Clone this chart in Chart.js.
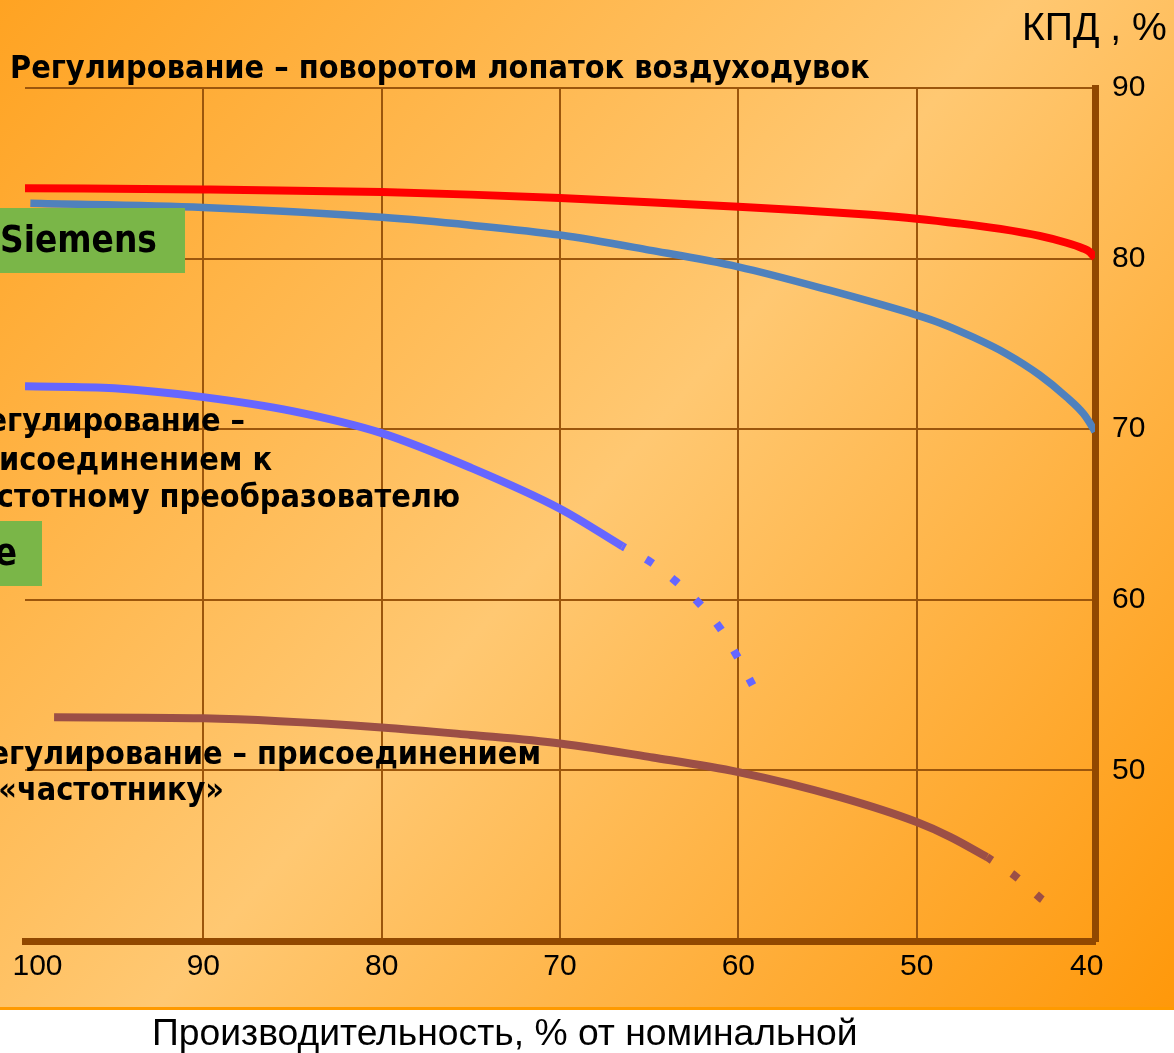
<!DOCTYPE html>
<html><head><meta charset="utf-8">
<script src="https://cdn.jsdelivr.net/npm/chart.js@4.4.1/dist/chart.umd.min.js"></script>
<style>html,body{margin:0;padding:0;background:#fff;overflow:hidden}canvas{display:block}</style>
</head><body>
<canvas id="c" width="1174" height="1053"></canvas>
<script>
// ---- data ----
const xTickValues = [100, 90, 80, 70, 60, 50, 40];
const yTickValues = [90, 80, 70, 60, 50];

const bladesX = [100, 90, 80, 75, 70, 65, 60, 56.5, 52.6, 50, 47.6, 45.3, 43.1, 41.6, 40.7, 40.3, 40];
const bladesY = [84.13, 84.05, 83.9, 83.75, 83.55, 83.31, 83.04, 82.84, 82.57, 82.34, 82.06, 81.74, 81.33, 80.93, 80.61, 80.4, 80.05];

const siemensX = [99.7, 90, 80, 75, 70, 65, 60, 54.9, 50, 48.7, 46.8, 45.0, 43.1, 41.6, 40.65, 40.1, 40];
const siemensY = [83.24, 83.0, 82.42, 81.96, 81.38, 80.5, 79.52, 78.15, 76.69, 76.23, 75.38, 74.44, 73.17, 71.89, 70.91, 70.04, 69.85];

const vfdX = [100, 95, 90, 85, 80, 75, 70, 66.5];
const vfdY = [72.52, 72.4, 71.88, 71.06, 69.77, 67.74, 65.34, 63.14];
const vfdDashX = [66.5, 64.9, 63.5, 62.2, 61.0, 60.1, 59.2];
const vfdDashY = [63.14, 62.2, 61.08, 59.8, 58.3, 56.75, 55.0];

const chastX = [98.37, 90, 80, 75, 70, 64.8, 60, 54.3, 50, 48.1, 46.06];
const chastY = [53.11, 53.05, 52.52, 52.08, 51.58, 50.76, 49.9, 48.43, 46.97, 46.09, 44.92];
const chastDashX = [46.06, 44.37, 43.03, 42.8];
const chastDashY = [44.92, 43.72, 42.49, 42.32];

const titleText = 'Регулирование – поворотом лопаток воздуходувок';
const yAxisTitle = 'КПД , %';
const xAxisTitle = 'Производительность, % от номинальной';
const noteVfd = ['Регулирование –', 'присоединением к', 'частотному преобразователю'];
const noteChast = ['Регулирование – присоединением', 'к «частотнику»'];
const brand1 = 'Siemens';
const brand2 = 'e';

const pts = (xs, ys) => xs.map((x, i) => ({x, y: ys[i]}));

const BOLD = '"DejaVu Sans Condensed", "DejaVu Sans", sans-serif';
const NORM = '"Liberation Sans", Arial, sans-serif';

function fitSize(ctx, text, weight, family, target) {
  ctx.font = weight + ' 100px ' + family;
  return 100 * target / ctx.measureText(text).width;
}

const bgPlugin = {
  id: 'bg',
  beforeDraw(chart) {
    const ctx = chart.ctx, W = chart.width;
    ctx.save();
    ctx.fillStyle = '#fff';
    ctx.fillRect(0, 0, W, chart.height);
    const g = ctx.createLinearGradient(0, 0, W, 1010);
    g.addColorStop(0, '#ffa322');
    g.addColorStop(0.5, '#ffc872');
    g.addColorStop(1, '#ff980a');
    ctx.fillStyle = g;
    ctx.fillRect(0, 0, W, 1010);
    ctx.fillStyle = '#ff9a00';
    ctx.fillRect(0, 1007, W, 3);
    ctx.restore();
  }
};

const textPlugin = {
  id: 'texts',
  afterDraw(chart) {
    const ctx = chart.ctx;
    ctx.save();
    ctx.textBaseline = 'alphabetic';
    ctx.fillStyle = '#000';
    const bs = fitSize(ctx, titleText, 'bold', BOLD, 860);
    ctx.font = 'bold ' + bs + 'px ' + BOLD;
    ctx.textAlign = 'left';
    ctx.fillText(titleText, 10, 78);
    ctx.textAlign = 'right';
    ctx.fillText(noteVfd[0], 245, 431);
    ctx.fillText(noteVfd[1], 272, 470);
    ctx.fillText(noteVfd[2], 460, 507);
    ctx.fillText(noteChast[0], 541, 764);
    ctx.fillText(noteChast[1], 224, 800);
    ctx.fillStyle = '#7ab648';
    ctx.fillRect(0, 208, 185, 65);
    ctx.fillRect(0, 521, 42, 65);
    ctx.fillStyle = '#000';
    const ss = fitSize(ctx, brand1, 'bold', BOLD, 157);
    ctx.font = 'bold ' + ss + 'px ' + BOLD;
    ctx.textAlign = 'left';
    ctx.fillText(brand1, 0, 252);
    ctx.textAlign = 'right';
    ctx.fillText(brand2, 17, 565);
    const ys = fitSize(ctx, yAxisTitle, 'normal', NORM, 145);
    ctx.font = 'normal ' + ys + 'px ' + NORM;
    ctx.textAlign = 'left';
    ctx.fillText(yAxisTitle, 1022, 40);
    const xs = fitSize(ctx, xAxisTitle, 'normal', NORM, 706);
    ctx.font = 'normal ' + xs + 'px ' + NORM;
    ctx.fillText(xAxisTitle, 152, 1045);
    ctx.restore();
  }
};

const GRID = '#9c560c';
const AXIS = '#914800';

new Chart(document.getElementById('c'), {
  type: 'line',
  data: {
    datasets: [
      {data: pts(bladesX, bladesY), borderColor: '#ff0000', borderWidth: 8},
      {data: pts(siemensX, siemensY), borderColor: '#4f81bd', borderWidth: 7.5},
      {data: pts(vfdX, vfdY), borderColor: '#6666ff', borderWidth: 8},
      {data: pts(vfdDashX, vfdDashY), borderColor: '#6666ff', borderWidth: 8, borderDash: [8, 24], borderDashOffset: 5},
      {data: pts(chastX, chastY), borderColor: '#9c4f46', borderWidth: 8},
      {data: pts(chastDashX, chastDashY), borderColor: '#9c4f46', borderWidth: 8, borderDash: [8, 24], borderDashOffset: 2}
    ]
  },
  options: {
    responsive: false,
    animation: false,
    devicePixelRatio: 1,
    layout: {padding: {left: 25, top: 88, right: 0, bottom: 0}},
    elements: {
      point: {radius: 0, hoverRadius: 0},
      line: {cubicInterpolationMode: 'monotone', borderCapStyle: 'butt', fill: false}
    },
    plugins: {legend: {display: false}, tooltip: {enabled: false}, title: {display: false}},
    events: [],
    scales: {
      x: {
        type: 'linear', min: 40, max: 100, reverse: true,
        afterBuildTicks: s => { s.ticks = xTickValues.map(v => ({value: v})); },
        afterFit: s => { s.height = 112; s.paddingLeft = 0; s.paddingRight = 0; },
        grid: {
          drawTicks: false, lineWidth: 2,
          color: c => (c.tick && c.tick.value === 100) ? 'rgba(0,0,0,0)' : GRID
        },
        border: {display: true, color: AXIS, width: 7},
        ticks: {color: '#000', padding: 8, maxRotation: 0, autoSkip: false,
                font: {family: NORM, size: 30},
                callback: v => v === 100 ? '   100' : (v === 40 ? '40  ' : String(v))}
      },
      y: {
        type: 'linear', position: 'right', min: 40, max: 90,
        afterBuildTicks: s => { s.ticks = [40].concat(yTickValues.slice().reverse()).map(v => ({value: v})); },
        afterFit: s => { s.width = 79; s.paddingTop = 0; s.paddingBottom = 0; },
        grid: {drawTicks: false, lineWidth: 2, color: GRID},
        border: {display: true, color: AXIS, width: 7},
        ticks: {color: '#000', padding: 17, font: {family: NORM, size: 30},
                callback: v => v === 40 ? '' : String(v)}
      }
    }
  },
  plugins: [bgPlugin, textPlugin]
});
</script>
</body></html>
